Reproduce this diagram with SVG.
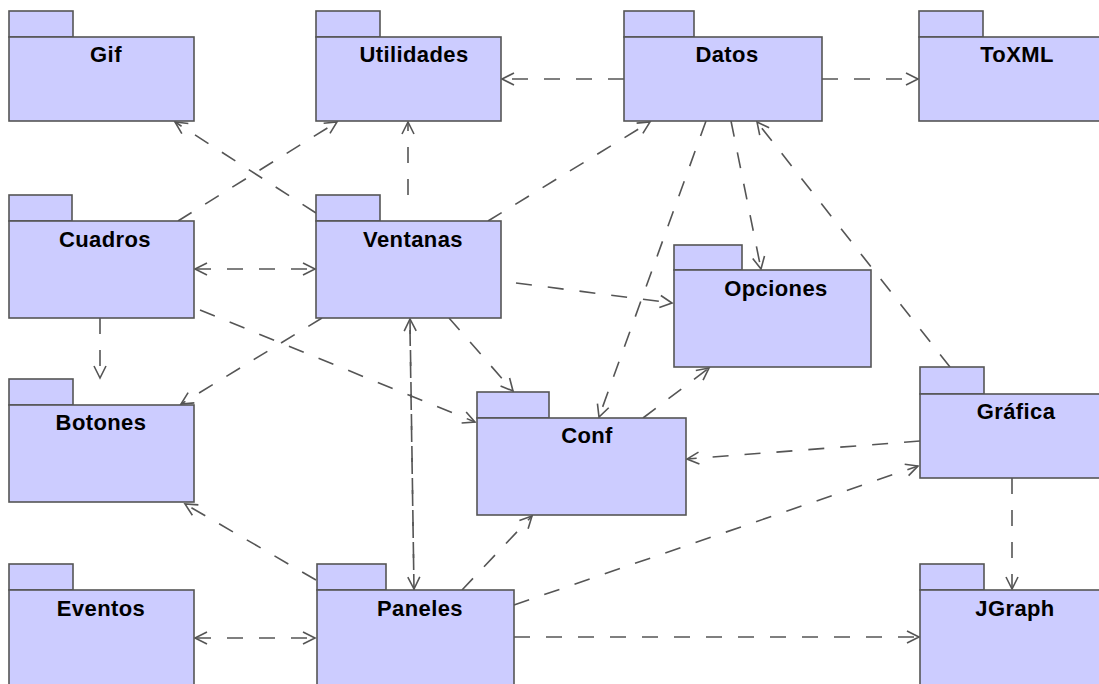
<svg xmlns="http://www.w3.org/2000/svg" width="1099" height="684" viewBox="0 0 1099 684">
  <style>
    .pkg rect { fill: #CCCCFF; stroke: #555555; stroke-width: 1.6; }
    .pkg text { font-family: "Liberation Sans", Arial, sans-serif; font-weight: bold; font-size: 22px; letter-spacing: 0.4px; fill: #000000; text-anchor: middle; }
    .dep { fill: none; stroke: #555555; stroke-width: 1.6; stroke-dasharray: 16 16; }
    .head { fill: none; stroke: #555555; stroke-width: 1.6; stroke-dasharray: none; }
  </style>
  <defs>
    <marker id="open" markerUnits="userSpaceOnUse" markerWidth="16" markerHeight="16" viewBox="-14 -8 16 16" refX="0" refY="0" orient="auto-start-reverse">
      <path class="head" d="M-12,-6 L0,0 L-12,6"/>
    </marker>
  </defs>
  <rect width="1099" height="684" fill="#FFFFFF"/>

  <!-- dependency connectors -->
  <g id="connectors">
    <line class="dep" x1="624" y1="79" x2="502" y2="79" marker-end="url(#open)"/>
    <line class="dep" x1="822" y1="79" x2="918" y2="79" marker-end="url(#open)"/>
    <line class="dep" x1="316" y1="213" x2="175" y2="122" marker-end="url(#open)"/>
    <line class="dep" x1="178" y1="221" x2="337" y2="122" marker-end="url(#open)"/>
    <line class="dep" x1="408" y1="195" x2="408" y2="122" marker-end="url(#open)"/>
    <line class="dep" x1="488" y1="221" x2="650" y2="122" marker-end="url(#open)"/>
    <line class="dep" x1="706" y1="121" x2="599" y2="417" marker-end="url(#open)"/>
    <line class="dep" x1="731" y1="121" x2="761" y2="269" marker-end="url(#open)"/>
    <line class="dep" x1="950" y1="367" x2="757" y2="122" marker-end="url(#open)"/>
    <line class="dep" x1="195" y1="269" x2="315" y2="269" marker-start="url(#open)" marker-end="url(#open)"/>
    <line class="dep" x1="100" y1="318" x2="100" y2="378" marker-end="url(#open)"/>
    <line class="dep" x1="200" y1="310" x2="475" y2="422" marker-end="url(#open)"/>
    <line class="dep" x1="516" y1="283" x2="672" y2="303" marker-end="url(#open)"/>
    <line class="dep" x1="449" y1="318" x2="513" y2="391" marker-end="url(#open)"/>
    <line class="dep" x1="322" y1="318" x2="181" y2="404" marker-end="url(#open)"/>
    <line class="dep" x1="643" y1="418" x2="709" y2="368" marker-end="url(#open)"/>
    <line class="dep" x1="920" y1="441" x2="687" y2="459" marker-end="url(#open)"/>
    <line class="dep" x1="514" y1="605" x2="918" y2="466" marker-end="url(#open)"/>
    <line class="dep" x1="1012" y1="478" x2="1012" y2="589" marker-end="url(#open)"/>
    <line class="dep" x1="414" y1="590" x2="410" y2="319" marker-end="url(#open)"/>
    <line class="dep" x1="410" y1="330" x2="414" y2="589" marker-end="url(#open)"/>
    <line class="dep" x1="462" y1="590" x2="532" y2="516" marker-end="url(#open)"/>
    <line class="dep" x1="316" y1="580" x2="185" y2="504" marker-end="url(#open)"/>
    <line class="dep" x1="195" y1="638" x2="315" y2="638" marker-start="url(#open)" marker-end="url(#open)"/>
    <line class="dep" x1="514" y1="637" x2="919" y2="637" marker-end="url(#open)"/>
  </g>

  <g id="Gif" class="pkg">
    <rect x="9" y="11" width="64" height="26"/>
    <rect x="9" y="37" width="185" height="84"/>
    <text x="106" y="62">Gif</text>
  </g>
  <g id="Utilidades" class="pkg">
    <rect x="316" y="11" width="64" height="26"/>
    <rect x="316" y="37" width="185" height="84"/>
    <text x="414" y="62">Utilidades</text>
  </g>
  <g id="Datos" class="pkg">
    <rect x="624" y="11" width="70" height="26"/>
    <rect x="624" y="37" width="198" height="84"/>
    <text x="727" y="62">Datos</text>
  </g>
  <g id="ToXML" class="pkg">
    <rect x="919" y="11" width="64" height="26"/>
    <rect x="919" y="37" width="200" height="84"/>
    <text x="1017" y="62">ToXML</text>
  </g>
  <g id="Cuadros" class="pkg">
    <rect x="9" y="195" width="63" height="26"/>
    <rect x="9" y="221" width="185" height="97"/>
    <text x="105" y="247">Cuadros</text>
  </g>
  <g id="Ventanas" class="pkg">
    <rect x="316" y="195" width="64" height="26"/>
    <rect x="316" y="221" width="185" height="97"/>
    <text x="413" y="247">Ventanas</text>
  </g>
  <g id="Opciones" class="pkg">
    <rect x="674" y="245" width="68" height="25"/>
    <rect x="674" y="270" width="197" height="97"/>
    <text x="776" y="296">Opciones</text>
  </g>
  <g id="Botones" class="pkg">
    <rect x="9" y="379" width="64" height="26"/>
    <rect x="9" y="405" width="185" height="97"/>
    <text x="101" y="430">Botones</text>
  </g>
  <g id="Conf" class="pkg">
    <rect x="477" y="392" width="72" height="26"/>
    <rect x="477" y="418" width="209" height="97"/>
    <text x="587" y="443">Conf</text>
  </g>
  <g id="Grafica" class="pkg">
    <rect x="920" y="367" width="64" height="27"/>
    <rect x="920" y="394" width="200" height="84"/>
    <text x="1016" y="419">Gráfica</text>
  </g>
  <g id="Eventos" class="pkg">
    <rect x="9" y="564" width="64" height="26"/>
    <rect x="9" y="590" width="185" height="110"/>
    <text x="101" y="616">Eventos</text>
  </g>
  <g id="Paneles" class="pkg">
    <rect x="317" y="564" width="69" height="26"/>
    <rect x="317" y="590" width="197" height="110"/>
    <text x="420" y="616">Paneles</text>
  </g>
  <g id="JGraph" class="pkg">
    <rect x="920" y="564" width="64" height="26"/>
    <rect x="920" y="590" width="200" height="110"/>
    <text x="1015" y="616">JGraph</text>
  </g>
</svg>
